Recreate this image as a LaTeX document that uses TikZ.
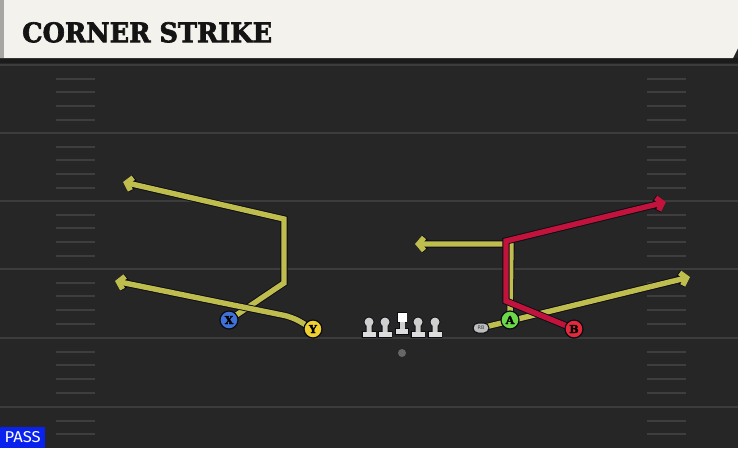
\documentclass[tikz,border=0pt]{standalone}
\usepackage{graphicx}
\usepackage{fontspec}
\setmainfont{DejaVu Sans}
\newfontfamily\slab{DejaVu Serif}
\newfontfamily\heavy{DejaVu Serif Bold}[FakeBold=2.5]
\newfontfamily\passfont{Fira Sans}
\usetikzlibrary{arrows.meta,shapes.misc}
\pgfdeclarelayer{bg}
\pgfdeclarelayer{rt}
\pgfsetlayers{bg,rt,main}
\definecolor{fieldc}{HTML}{262626}
\definecolor{bandc}{HTML}{1B1B1B}
\definecolor{linec}{HTML}{3C3C3C}
\definecolor{hashc}{HTML}{3E3E3E}
\definecolor{hdrc}{HTML}{F4F2EC}
\definecolor{stripc}{HTML}{A8A6A2}
\definecolor{routey}{HTML}{BEBD4E}
\definecolor{router}{HTML}{C1133B}
\definecolor{outc}{HTML}{0B0B14}
\definecolor{pxc}{HTML}{3F72D9}
\definecolor{pyc}{HTML}{F0CF30}
\definecolor{pac}{HTML}{6BD84A}
\definecolor{pbc}{HTML}{E32A3C}
\definecolor{passc}{HTML}{0A22EE}
\definecolor{lmc}{HTML}{CFCFCF}
\definecolor{lmbase}{HTML}{DDDDDD}
\definecolor{ballc}{HTML}{676767}
\definecolor{rbc}{HTML}{BDBDBD}
\tikzset{
  player/.style={circle, draw=outc, line width=1.2pt, minimum size=18pt, inner sep=0pt,
    font=\heavy\fontsize{11}{11}\selectfont, text=black},
  routeline/.style={line width=5.4pt, draw=#1,
    -{Straight Barb[length=5.5pt,width=13pt]},
    preaction={draw=outc, line width=7.2pt, -{Straight Barb[length=5.5pt,width=13pt]}}},
  yardline/.style={draw=linec, line width=2.4pt},
  hashmark/.style={draw=hashc, line width=2.4pt},
  lineman/.pic={
    \filldraw[outc, line width=1.6pt] (0,0) circle (4.5pt) (-2.5,0) rectangle (2.5,10) (-6.5,10) rectangle (6.5,15);
    \fill[lmc] (0,0) circle (4.5pt) (-2.5,0) rectangle (2.5,10);
    \fill[lmbase] (-6.5,10) rectangle (6.5,15);
  },
  centerman/.pic={
    \filldraw[outc, line width=1.6pt] (-4.5,-9) rectangle (4.5,0) (-2.5,0) rectangle (2.5,7) (-6,7) rectangle (6,12);
    \fill[white] (-4.5,-9) rectangle (4.5,0);
    \fill[lmc] (-2.5,0) rectangle (2.5,7);
    \fill[lmbase] (-6,7) rectangle (6,12);
  }
}
\begin{document}
\begin{tikzpicture}[x=1pt,y=-1pt]
\useasboundingbox (0,0) rectangle (738,448);
% field background
\begin{pgfonlayer}{bg}
\fill[fieldc] (0,0) rectangle (738,448);
\fill[bandc] (0,58) rectangle (738,63);
\foreach \yy in {65,133,201,269,338,407}{
  \draw[yardline] (0,\yy) -- (738,\yy);
}
\foreach \yy in {65,133,201,269,338,407}{
  \foreach \dd in {14,27,41,55}{
    \pgfmathsetmacro{\hy}{\yy+\dd}
    \ifdim\hy pt<446pt
      \draw[hashmark] (56,\hy) -- (95,\hy);
      \draw[hashmark] (647,\hy) -- (686,\hy);
    \fi
  }
}
% header
\fill[hdrc] (0,0) -- (738,0) -- (738,48) -- (733,58) -- (0,58) -- cycle;
\fill[stripc] (0,0) rectangle (4,58);
\end{pgfonlayer}

\node[anchor=north west, inner sep=0pt, text=black!92] (title) at (22,22) {\resizebox{250pt}{20pt}{\heavy CORNER STRIKE}};

% players
\node[player, fill=pxc] (X) at (229,320) {X};
\node[player, fill=pyc] (Y) at (313,329) {Y};
\node[player, fill=pac] (A) at (510,320) {A};
\node[player, fill=pbc] (B) at (574,329) {B};
\node[rounded rectangle, fill=rbc, draw=outc, line width=1pt, minimum width=16pt, minimum height=10pt,
      inner sep=0pt, font=\fontsize{5}{5}\selectfont, text=black!75] (RB) at (481,328) {RB};
\node[circle, fill=ballc, minimum size=8pt, inner sep=0pt] (ball) at (402,353) {};

% line
\pic at (369,322) {lineman};
\pic at (385,322) {lineman};
\pic at (402,322) {centerman};
\pic at (418,322) {lineman};
\pic at (435,322) {lineman};

% route coordinates
\coordinate (x1) at (284,283);
\coordinate (x2) at (284,219);
\coordinate (xe) at (123,182);
\coordinate (y1) at (292,317);
\coordinate (ye) at (115,281);
\coordinate (a1) at (511,244);
\coordinate (ae) at (415,244);
\coordinate (rbe) at (690,277);
\coordinate (b1) at (506,301);
\coordinate (b2) at (506,241);
\coordinate (be) at (666,202);

\begin{pgfonlayer}{rt}
\draw[routeline=routey] (X.center) -- (x1) -- (x2) -- (xe);
\draw[routeline=routey, rounded corners=8pt] (Y.center) -- (y1) -- (ye);
\draw[routeline=routey] (RB.center) -- (rbe);
\draw[routeline=routey] (A.center) -- (a1) -- (ae);
\draw[routeline=router] (B.center) -- (b1) -- (b2) -- (be);
\end{pgfonlayer}

\node[fill=passc, anchor=south west, minimum width=45pt, minimum height=21pt, inner sep=0pt, text=white] (pass) at (0,448) {\resizebox{36pt}{11pt}{\passfont PASS}};
\end{tikzpicture}
\end{document}
